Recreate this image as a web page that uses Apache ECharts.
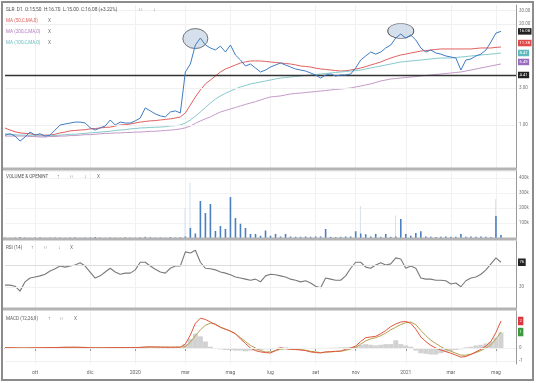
<!DOCTYPE html>
<html><head><meta charset="utf-8">
<script src="https://cdn.jsdelivr.net/npm/echarts@6/dist/echarts.min.js"></script>
<style>html,body{margin:0;padding:0;background:#fff}#c{width:536px;height:383px}</style>
</head><body><div id="c"></div>
<script>
// ---- data (one value every ~5 px / trading week) ----
const tickIdx = [6,17,26,36,45,53,62,70,80,89,98];
const tickLabels = ['ott','dic','2020','mar','mag','lug','set','nov','2021','mar','mag'];
const price = [0.74,0.77,0.72,0.62,0.70,0.81,0.74,0.77,0.72,0.74,
 0.86,1.00,1.03,1.06,1.09,1.09,1.06,0.92,0.86,0.92,
 0.97,1.16,1.00,1.09,1.06,1.06,1.13,1.23,1.66,1.52,
 1.39,1.31,1.27,1.47,1.52,1.43,4.82,6.11,10.74,13.2,
 10.74,9.83,9.26,10.4,8.72,10.74,7.98,6.88,5.76,6.11,
 5.43,4.82,5.11,5.59,5.93,6.30,5.93,5.59,5.27,5.11,
 4.96,4.68,4.41,4.03,4.41,4.54,4.28,4.41,4.41,4.54,
 5.43,6.88,7.75,8.72,8.2,8.72,9.83,10.74,13.2,14.9,
 13.2,14.45,12.46,9.83,8.72,9.26,8.47,8.2,7.75,7.52,
 7.30,5.11,6.88,7.1,7.75,8.2,9.26,11.74,15.3,16.08];
const ma50 = [0.915,0.86,0.82,0.79,0.78,0.77,0.75,0.74,0.74,0.74,
 0.76,0.79,0.81,0.84,0.85,0.86,0.87,0.89,0.90,0.915,
 0.93,0.94,0.97,1.0,1.01,1.03,1.06,1.09,1.11,1.13,
 1.14,1.16,1.18,1.2,1.23,1.27,1.43,1.81,2.30,2.83,
 3.38,3.80,4.28,4.82,5.27,5.59,5.93,6.30,6.5,6.68,
 6.7,6.68,6.6,6.48,6.4,6.30,6.2,6.11,5.95,5.76,
 5.68,5.59,5.4,5.27,5.2,5.11,5.03,4.96,5.0,5.11,
 5.25,5.43,5.65,5.93,6.2,6.48,6.9,7.30,7.65,7.98,
 8.2,8.47,8.7,8.98,9.1,9.26,9.4,9.55,9.55,9.55,
 9.55,9.55,9.55,9.55,9.7,9.83,9.83,9.83,10.0,10.12];
const ma100 = [0.77,0.76,0.75,0.74,0.74,0.73,0.72,0.72,0.72,0.73,
 0.73,0.74,0.75,0.76,0.76,0.77,0.78,0.79,0.80,0.81,
 0.82,0.83,0.85,0.86,0.87,0.89,0.90,0.915,0.92,0.93,
 0.935,0.94,0.95,0.97,0.98,1.0,1.06,1.16,1.3,1.47,
 1.68,1.92,2.15,2.37,2.56,2.74,2.92,3.09,3.23,3.38,
 3.48,3.58,3.69,3.80,3.92,4.03,4.09,4.15,4.22,4.28,
 4.35,4.41,4.48,4.54,4.61,4.68,4.75,4.82,4.89,4.96,
 5.03,5.11,5.27,5.43,5.59,5.76,5.93,6.11,6.3,6.48,
 6.58,6.68,6.78,6.88,6.99,7.1,7.2,7.3,7.3,7.3,
 7.41,7.52,7.63,7.75,7.86,7.98,8.09,8.2,8.33,8.47];
const ma200 = [0.72,0.72,0.72,0.72,0.72,0.71,0.71,0.70,0.70,0.71,
 0.71,0.72,0.72,0.73,0.73,0.74,0.75,0.75,0.76,0.77,
 0.78,0.78,0.79,0.79,0.80,0.80,0.81,0.81,0.82,0.83,
 0.83,0.84,0.85,0.86,0.87,0.89,0.92,0.97,1.05,1.13,
 1.2,1.27,1.37,1.47,1.54,1.61,1.68,1.76,1.84,1.92,
 2.0,2.10,2.2,2.30,2.33,2.37,2.44,2.51,2.55,2.58,
 2.62,2.66,2.7,2.74,2.78,2.83,2.87,2.91,2.95,3.0,
 3.09,3.18,3.28,3.38,3.53,3.69,3.8,3.92,3.97,4.03,
 4.09,4.15,4.21,4.28,4.35,4.41,4.48,4.54,4.61,4.68,
 4.75,4.82,4.96,5.11,5.27,5.43,5.59,5.76,5.93,6.11];
const volumeK = [3,2,4,6,3,2,3,5,2,3,
 4,3,2,3,5,2,3,4,6,3,
 2,4,3,2,5,3,2,4,8,5,
 3,4,2,6,3,5,10,67,30,247,
 167,227,47,80,60,273,133,95,67,27,
 27,15,50,15,27,10,27,10,8,8,
 10,8,10,10,60,8,6,8,10,10,
 45,30,25,10,27,8,27,8,10,127,
 27,15,33,45,10,8,6,8,10,8,
 8,27,8,10,8,10,8,6,147,20];
const openIntK = {36:200, 37:370, 71:213, 78:150, 98:260};
const rsi = [34,34,32,23,40,47,49,51,54,60,
 64,69,67,69,71,75,69,58,47,51,
 58,65,58,54,56,56,62,76,76,69,
 63,58,56,65,69,69,95,93,98,76,
 65,64,62,58,56,53,49,47,45,43,
 45,40,51,54,53,51,49,45,43,40,
 42,38,32,29,47,45,43,43,51,65,
 76,76,67,65,71,75,71,73,84,82,
 65,69,65,47,45,45,43,43,42,36,
 38,31,42,47,49,54,62,73,84,76];
const macd = [0.02,0.02,0.01,0.0,0.0,0.01,0.02,0.02,0.03,0.03,
 0.04,0.05,0.06,0.06,0.06,0.05,0.04,0.02,0.01,0.01,
 0.02,0.03,0.03,0.03,0.03,0.03,0.04,0.05,0.08,0.09,
 0.08,0.07,0.06,0.06,0.07,0.07,0.3,1.0,1.9,2.3,
 2.2,2.0,1.8,1.6,1.45,1.3,1.1,0.7,0.35,0.0,
 -0.2,-0.3,-0.35,-0.38,-0.2,0.0,-0.05,-0.1,-0.12,-0.15,
 -0.2,-0.3,-0.35,-0.38,-0.3,-0.28,-0.25,-0.23,-0.1,0.0,
 0.15,0.5,0.8,0.85,0.9,1.1,1.35,1.65,1.85,2.0,
 2.05,1.9,1.45,0.85,0.5,0.2,0.0,-0.15,-0.28,-0.4,
 -0.55,-0.7,-0.65,-0.5,-0.3,-0.1,0.15,0.5,1.2,2.08];
const signal = [0.02,0.02,0.02,0.01,0.01,0.01,0.01,0.02,0.02,0.03,
 0.03,0.04,0.05,0.05,0.06,0.05,0.05,0.03,0.02,0.02,
 0.02,0.02,0.03,0.03,0.03,0.03,0.03,0.04,0.06,0.07,
 0.07,0.07,0.07,0.06,0.06,0.07,0.1,0.45,0.95,1.4,
 1.75,1.92,1.85,1.6,1.45,1.3,1.1,0.8,0.5,0.2,
 0.0,-0.2,-0.3,-0.3,-0.2,-0.1,-0.05,-0.08,-0.1,-0.12,
 -0.17,-0.25,-0.3,-0.35,-0.32,-0.3,-0.27,-0.25,-0.18,-0.08,
 0.05,0.3,0.55,0.7,0.8,0.95,1.15,1.4,1.6,1.8,
 1.95,2.0,1.8,1.35,0.95,0.6,0.35,0.1,-0.1,-0.25,
 -0.4,-0.55,-0.55,-0.48,-0.35,-0.2,0.0,0.25,0.7,1.23];
const hist = [0,0,0,0,0,0,0,0,0,0,
 0,0,0,0,0,0,0,0,0,0,
 0,0,0,0,0,0,0,0,0.02,0.02,
 0.01,0,0,0,0.01,0,0.3,0.7,1.1,0.9,
 0.5,0.1,-0.05,-0.1,-0.15,-0.15,-0.2,-0.2,-0.25,-0.2,
 -0.2,-0.15,-0.1,-0.1,0,0.1,0.05,0,-0.02,-0.05,
 -0.05,-0.05,-0.05,-0.05,0,0.02,0.03,0.05,0.06,0.08,
 0.15,0.25,0.3,0.25,0.2,0.25,0.3,0.3,0.6,0.3,
 0.2,0.1,-0.2,-0.4,-0.45,-0.5,-0.5,-0.4,-0.3,-0.2,
 -0.15,-0.1,0.05,0.1,0.2,0.25,0.35,0.5,0.8,1.2];
const N = 103;

// ---- build ----
const tickSet = new Set(tickIdx);
const categories = Array.from({length:N}, (_, i) => { const k = tickIdx.indexOf(i); return k >= 0 ? tickLabels[k] : String(i); });
const openInt = Array.from({length:100}, (_, i) => openIntK[i] != null ? openIntK[i] : null);
const FONT = 'Roboto';
const showTick = (i) => tickSet.has(i);
const CLEAR = 'rgba(0,0,0,0)';

function xAx(g, bottom) {
  return {type:'category', gridIndex:g, data:categories, boundaryGap:false,
    axisLine:{show:bottom, lineStyle:{color:'#8a8a8a'}},
    axisTick:{show:bottom, interval:showTick, length:3, lineStyle:{color:'#999'}},
    axisLabel:{show:bottom, interval:showTick, fontSize:5, color:'#666', margin:6, fontFamily:FONT},
    splitLine:{show:true, interval:showTick, lineStyle:{color:'#f1f1f1', width:1}}};
}
function yLine(){ return {show:true, lineStyle:{color:'#9a9a9a'}}; }
function lbl(v, txt) {
  return {yAxis:v, lineStyle:{color:'#f0f0f0', width:1, type:'solid'},
    label:{formatter:txt, color:'#777', fontSize:4.5, distance:3, fontFamily:FONT}};
}
function box(v, txt, bg, pad) {
  return {yAxis:v, lineStyle:{color:CLEAR, width:0},
    label:{show:true, formatter:txt, color:'#fff', backgroundColor:bg, padding:pad || [1.5,1.5,1,1.5], fontSize:4.2, distance:2, fontFamily:FONT}};
}
const ML = (data) => ({symbol:['none','none'], silent:true, animation:false, data,
  label:{position:'end'}});

const ellipse = 'path://M0 50A50 50 0 1 1 100 50A50 50 0 1 1 0 50Z';

function txt(x, y, s, color, size) {
  return {type:'text', x, y, z:100, style:{text:s, fill:color||'#555', fontSize:size||4.8, fontFamily:FONT, verticalAlign:'middle'}};
}

const option = {
  animation:false,
  backgroundColor:'#fff',
  grid:[
    {left:5, width:511, top:5, height:163},
    {left:5, width:511, top:171, height:67},
    {left:5, width:511, top:241, height:67},
    {left:5, width:511, top:311, height:53}
  ],
  xAxis:[xAx(0,false), xAx(1,false), xAx(2,false), xAx(3,true)],
  yAxis:[
    {type:'log', gridIndex:0, min:0.279, max:35.2, position:'right', axisLine:yLine(), axisTick:{show:false}, axisLabel:{show:false}, splitLine:{show:false}},
    {type:'value', gridIndex:1, min:0, max:447, interval:100, position:'right', axisLine:yLine(), axisTick:{show:false},
      axisLabel:{fontSize:4.5, color:'#777', margin:3, fontFamily:FONT, formatter:(v)=> (v>0 && v%100===0) ? v+'k' : ''},
      splitLine:{show:true, lineStyle:{color:'#f3f3f3'}}},
    {type:'value', gridIndex:2, min:-8, max:115, position:'right', axisLine:yLine(), axisTick:{show:false}, axisLabel:{show:false}, splitLine:{show:false}},
    {type:'value', gridIndex:3, min:-1.23, max:2.85, position:'right', axisLine:yLine(), axisTick:{show:false}, axisLabel:{show:false}, splitLine:{show:false}}
  ],
  series:[
    {name:'MA50', type:'line', xAxisIndex:0, yAxisIndex:0, data:ma50, symbol:'none', lineStyle:{color:'#e06060', width:1}, z:3},
    {name:'MA100', type:'line', xAxisIndex:0, yAxisIndex:0, data:ma100, symbol:'none', lineStyle:{color:'#86c9cc', width:1}, z:3},
    {name:'MA200', type:'line', xAxisIndex:0, yAxisIndex:0, data:ma200, symbol:'none', lineStyle:{color:'#c49ac8', width:1}, z:3},
    {name:'Price', type:'line', xAxisIndex:0, yAxisIndex:0, data:price, symbol:'none', lineStyle:{color:'#3f7cc4', width:1}, z:5,
      markPoint:{silent:true, symbol:ellipse, symbolSize:[25,20], label:{show:false},
        itemStyle:{color:'rgba(180,196,220,0.55)', borderColor:'#555', borderWidth:0.8},
        data:[{coord:[38, 13.0]}, {coord:[79, 16.3], symbolSize:[26,15]}]},
      markLine:ML([
        lbl(1, '1.00'), lbl(3, '3.00'), lbl(20, '20.00'), lbl(30, '30.00'),
        {yAxis:4.41, lineStyle:{color:'#333', width:1.4, type:'solid'},
          label:{formatter:'4.41', color:'#fff', backgroundColor:'#222', padding:[1.5,1.5,1,1.5], fontSize:4.2, distance:2, fontFamily:FONT}},
        box(16.08, '16.08', '#222'),
        box(11.38, '11.38', '#e04848'),
        box(8.47, '8.47', '#5fb8bd'),
        box(6.49, '6.49', '#9a6cc0')
      ])},
    {name:'OpenInt', type:'bar', xAxisIndex:1, yAxisIndex:1, data:openInt, barWidth:1, barGap:'-100%', itemStyle:{color:'#d4e0ee'}, z:1},
    {name:'Volume', type:'bar', xAxisIndex:1, yAxisIndex:1, data:volumeK, barWidth:1.6, barGap:'-100%', itemStyle:{color:'#4a7fc0'}, z:2},
    {name:'RSI', type:'line', xAxisIndex:2, yAxisIndex:2, data:rsi, symbol:'none', lineStyle:{color:'#7a7a7a', width:1.1},
      markLine:ML([
        {yAxis:70, lineStyle:{color:'#dcdcdc', width:1, type:'solid'}, label:{show:false}},
        lbl(30, '30'),
        box(76, '76', '#222', [2,1.5,1.5,1.5])
      ])},
    {name:'Hist', type:'bar', xAxisIndex:3, yAxisIndex:3, data:hist, barWidth:5, itemStyle:{color:'#d2d2d2'}, z:1},
    {name:'Signal', type:'line', xAxisIndex:3, yAxisIndex:3, data:signal, symbol:'none', lineStyle:{color:'#b3a24e', width:1}, z:3},
    {name:'MACD', type:'line', xAxisIndex:3, yAxisIndex:3, data:macd, symbol:'none', lineStyle:{color:'#e0563e', width:1}, z:4,
      markLine:ML([
        lbl(0, '0'), lbl(-1, '-1'),
        box(2.08, '2', '#d9363e', [2.5,1.5,2,1.5]),
        box(1.23, '1', '#3d9a3d', [2.5,1.5,2,1.5])
      ])}
  ],
  graphic:[
    {type:'rect', z:90, shape:{x:2, y:2, width:531, height:378}, style:{fill:'none', stroke:'#8c8c8c', lineWidth:2}},
    {type:'rect', z:90, shape:{x:3, y:167.5, width:514, height:3}, style:{fill:'#b4b4b4'}},
    {type:'rect', z:90, shape:{x:3, y:237.5, width:514, height:3}, style:{fill:'#b4b4b4'}},
    {type:'rect', z:90, shape:{x:3, y:307.5, width:514, height:3}, style:{fill:'#b4b4b4'}},
    txt(6, 10, 'SLR  D1  O:15.50  H:16.70  L:15.00  C:16.08 (+3.22%)', '#555', 4.8),
    txt(139, 10, '⁞⁞', '#888', 5), txt(153, 10, '↓', '#888', 5.5),
    txt(6, 21, 'MA (50,C,MA,0)', '#e06060', 4.6), txt(48, 21, 'X', '#777', 4.8),
    txt(6, 32, 'MA (200,C,MA,0)', '#b07cc0', 4.6), txt(48, 32, 'X', '#777', 4.8),
    txt(6, 43, 'MA (100,C,MA,0)', '#6dbcc2', 4.6), txt(48, 43, 'X', '#777', 4.8),
    txt(6, 177, 'VOLUME & OPENINT', '#555', 4.6), txt(57, 177, '↑', '#777', 5), txt(70, 177, '⁞⁞', '#888', 5), txt(84, 177, '↓', '#777', 5), txt(97, 177, 'X', '#777', 4.8),
    txt(6, 248, 'RSI (14)', '#555', 4.6), txt(31, 248, '↑', '#777', 5), txt(44, 248, '⁞⁞', '#888', 5), txt(58, 248, '↓', '#777', 5), txt(70, 248, 'X', '#777', 4.8),
    txt(6, 319, 'MACD (12,26,9)', '#555', 4.6), txt(48, 319, '↑', '#777', 5), txt(60, 319, '⁞⁞', '#888', 5), txt(74, 319, 'X', '#777', 4.8)
  ]
};
const chart = echarts.init(document.getElementById('c'), null, {renderer:'canvas'});
chart.setOption(option);
</script></body></html>
